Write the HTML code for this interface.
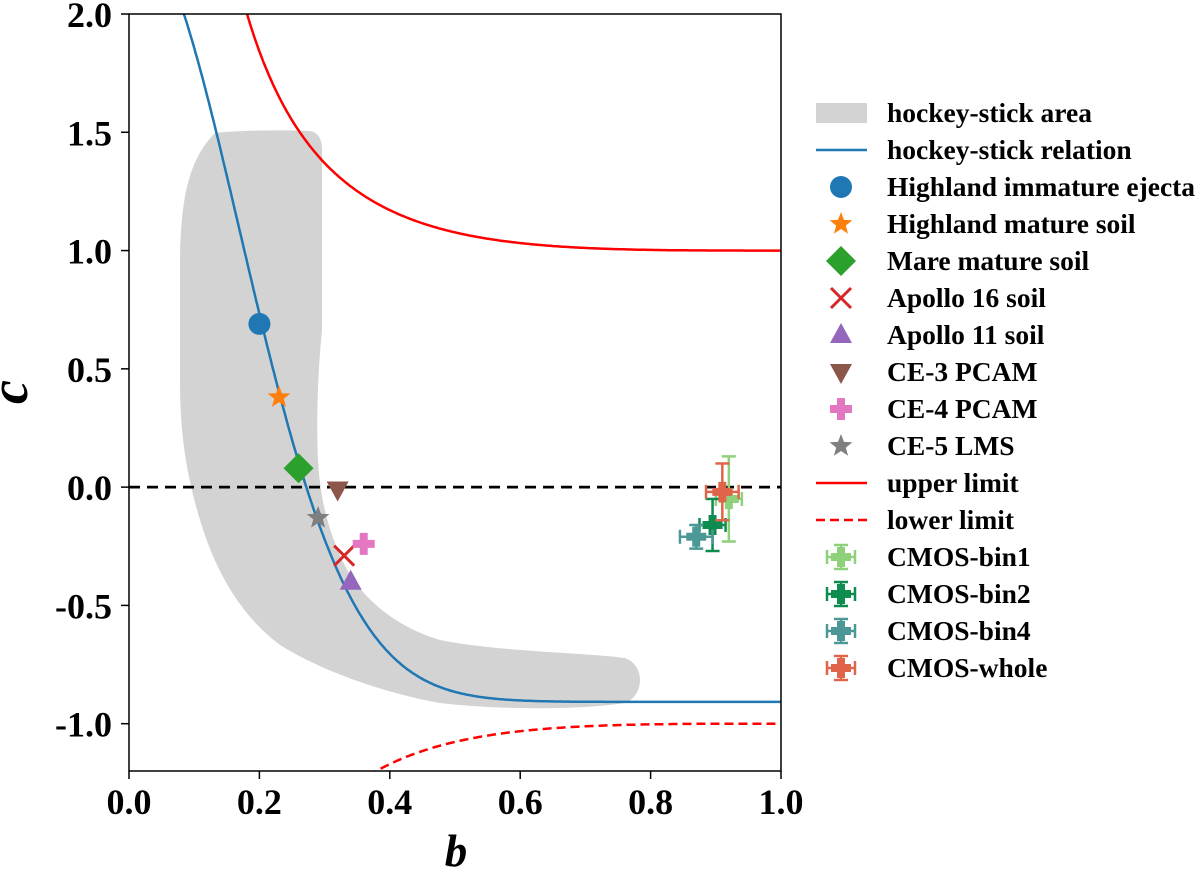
<!DOCTYPE html>
<html><head><meta charset="utf-8"><style>
html,body{margin:0;background:#fff;overflow:hidden;width:1200px;height:870px}
svg{display:block;font-family:"Liberation Serif",serif;font-weight:bold}
</style></head><body>
<svg id="chart" width="1200" height="870" viewBox="0 0 1200 870" xmlns="http://www.w3.org/2000/svg">
<g id="plot"></g>
<g id="axes"></g>
<g id="legend"></g>
</svg>
<script>
const xTicks=[0.0,0.2,0.4,0.6,0.8,1.0];
const yTicks=[-1.0,-0.5,0.0,0.5,1.0,1.5,2.0];
const pointNames=["Highland immature ejecta","Highland mature soil","Mare mature soil","Apollo 16 soil","Apollo 11 soil","CE-3 PCAM","CE-4 PCAM","CE-5 LMS"];
const pointB=[0.20,0.23,0.26,0.33,0.34,0.32,0.36,0.29];
const pointC=[0.69,0.38,0.08,-0.29,-0.40,-0.01,-0.24,-0.13];
const cmosNames=["CMOS-bin1","CMOS-bin2","CMOS-bin4","CMOS-whole"];
const cmosB=[0.92,0.895,0.87,0.91];
const cmosC=[-0.05,-0.16,-0.21,-0.02];
const cmosBErr=[0.02,0.02,0.025,0.025];
const cmosCErr=[0.18,0.11,0.05,0.12];
const hsA=3.29, hsK=17.4, hsOff=-0.908;

const X0=129,X1=781,Y0=771,Y1=14;
const sx=b=>X0+(b-0)/(1-0)*(X1-X0);
const sy=c=>Y0-(c+1.2)/(3.2)*(Y0-Y1);
const NS="http://www.w3.org/2000/svg";
function mk(tag,attrs,parent){const e=document.createElementNS(NS,tag);for(const k in attrs)e.setAttribute(k,attrs[k]);parent.appendChild(e);return e;}
const plot=document.getElementById('plot'),axes=document.getElementById('axes'),legend=document.getElementById('legend');
const clip=mk('clipPath',{id:'clp'},document.getElementById('chart'));
mk('rect',{x:X0,y:Y1,width:X1-X0,height:Y0-Y1},clip);
plot.setAttribute('clip-path','url(#clp)');

const area=mk('path',{d:"M215,133 C240,130 290,130 310,131 Q322,133 322,150 L322,330 C318,370 316,420 318,460 C320,500 330,540 350,575 C370,605 400,628 440,640 C500,652 580,652 625,658 C645,665 645,695 625,703 C580,710 500,710 440,703 C380,692 320,670 280,645 C240,615 215,570 200,520 C185,470 180,430 180,380 L180,260 C181,200 188,160 215,133 Z",fill:"#d3d3d3"},plot);



function curve(f,b0,b1,attrs,name){let d="";for(let i=0;i<=400;i++){const b=b0+(b1-b0)*i/400;const c=f(b);d+=(i?"L":"M")+sx(b).toFixed(1)+","+sy(Math.max(-3,Math.min(4,c))).toFixed(1);}
const p=mk('path',Object.assign({d:d,fill:"none"},attrs),plot);}
const lim=b=>(1+3*b*b)/(3*b+b*b*b);
curve(b=>lim(b),0.1,1,{stroke:"#ff0000","stroke-width":2.5},"upper-limit-line");
curve(b=>-lim(b),0.1,1,{stroke:"#ff0000","stroke-width":2.5,"stroke-dasharray":"9,5"},"lower-limit-line");
curve(b=>hsA*Math.exp(-hsK*b*b)+hsOff,0.0,1,{stroke:"#1f77b4","stroke-width":2.5},"hockey-stick-line");
const zl=mk('line',{x1:X0,x2:X1,y1:sy(0),y2:sy(0),stroke:"#000","stroke-width":2.8,"stroke-dasharray":"11,7"},plot);


const colors=["#1f77b4","#ff7f0e","#2ca02c","#d62728","#9467bd","#8c564b","#e377c2","#7f7f7f"];
function star(cx,cy,r){let d="";for(let i=0;i<10;i++){const a=-Math.PI/2+i*Math.PI/5;const rr=i%2?r*0.42:r;d+=(i?"L":"M")+(cx+rr*Math.cos(a)).toFixed(1)+","+(cy+rr*Math.sin(a)).toFixed(1);}return d+"Z";}
function marker(i,cx,cy,g){const c=colors[i];let e;
if(i==0)e=mk('circle',{cx:cx,cy:cy,r:11,fill:c},g);
else if(i==1||i==7)e=mk('path',{d:star(cx,cy,12),fill:c},g);
else if(i==2)e=mk('path',{d:`M${cx},${cy-15}L${cx+15},${cy}L${cx},${cy+15}L${cx-15},${cy}Z`,fill:c},g);
else if(i==3)e=mk('path',{d:`M${cx-10},${cy-10}L${cx+10},${cy+10}M${cx+10},${cy-10}L${cx-10},${cy+10}`,stroke:c,"stroke-width":3},g);
else if(i==4)e=mk('path',{d:`M${cx},${cy-12}L${cx+11},${cy+8}L${cx-11},${cy+8}Z`,fill:c},g);
else if(i==5)e=mk('path',{d:`M${cx-11},${cy-8}L${cx+11},${cy-8}L${cx},${cy+12}Z`,fill:c},g);
else e=mk('path',{d:`M${cx-4},${cy-11}h8v7h7v8h-7v7h-8v-7h-7v-8h7Z`,fill:c},g);
return e;}
pointNames.forEach((n,i)=>{const e=marker(i,sx(pointB[i]),sy(pointC[i]),plot);

});

const ccol=["#8fd17a","#0e8c50","#4b9897","#e0644a"];
function ebar(i,cx,cy,ex,ey,g){const c=ccol[i];const gg=mk('g',{stroke:c,"stroke-width":2.5,fill:c},g);
mk('line',{x1:cx,x2:cx,y1:cy-ey,y2:cy+ey},gg);mk('line',{x1:cx-ex,x2:cx+ex,y1:cy,y2:cy},gg);
mk('line',{x1:cx-7,x2:cx+7,y1:cy-ey,y2:cy-ey},gg);mk('line',{x1:cx+ex,x2:cx+ex,y1:cy-7,y2:cy+7},gg);
mk('line',{x1:cx-7,x2:cx+7,y1:cy+ey,y2:cy+ey},gg);mk('line',{x1:cx-ex,x2:cx-ex,y1:cy-7,y2:cy+7},gg);
mk('path',{d:`M${cx-4},${cy-10}h8v6h6v8h-6v6h-8v-6h-6v-8h6Z`,stroke:"none"},gg);return gg;}
cmosNames.forEach((n,i)=>{const cx=sx(cmosB[i]),cy=sy(cmosC[i]);
const e=ebar(i,cx,cy,sx(cmosB[i]+cmosBErr[i])-cx,sy(cmosC[i]-cmosCErr[i])-cy,plot);

});

const fr=mk('rect',{x:X0,y:Y1,width:X1-X0,height:Y0-Y1,fill:"none",stroke:"#000","stroke-width":1.5},axes);

xTicks.forEach(t=>{const x=sx(t);mk('line',{x1:x,x2:x,y1:Y0,y2:Y0+8,stroke:"#000","stroke-width":1.5},axes);
const tx=mk('text',{x:x,y:814,"text-anchor":"middle","font-size":36},axes);tx.textContent=t.toFixed(1);
});
yTicks.forEach(t=>{const y=sy(t);mk('line',{x1:X0-8,x2:X0,y1:y,y2:y,stroke:"#000","stroke-width":1.5},axes);
const tx=mk('text',{x:112,y:y+13,"text-anchor":"end","font-size":36},axes);tx.textContent=t.toFixed(1);
});
const xl=mk('text',{x:456,y:866,"text-anchor":"middle","font-size":45,"font-style":"italic"},axes);xl.textContent="b";

const yl=mk('text',{x:0,y:0,"text-anchor":"middle","font-size":54,"font-style":"italic",transform:"translate(27,392) rotate(-90)"},axes);yl.textContent="c";


const labels=["hockey-stick area","hockey-stick relation"].concat(pointNames,["upper limit","lower limit"],cmosNames);
labels.forEach((n,k)=>{const y=113+k*37;const g=mk('g',{},legend);

const cx=841;
if(k==0)mk('rect',{x:816,y:y-10,width:51,height:20,fill:"#d3d3d3"},g);
else if(k==1)mk('line',{x1:816,x2:867,y1:y,y2:y,stroke:"#1f77b4","stroke-width":2.5},g);
else if(k<10)marker(k-2,cx,y,g);
else if(k==10)mk('line',{x1:816,x2:867,y1:y,y2:y,stroke:"#ff0000","stroke-width":2.5},g);
else if(k==11)mk('line',{x1:816,x2:867,y1:y,y2:y,stroke:"#ff0000","stroke-width":2.5,"stroke-dasharray":"9,5"},g);
else ebar(k-12,cx,y,14,12,g);
const t=mk('text',{x:887,y:y+9,"font-size":27.5},g);t.textContent=n;});
</script>
</body></html>
